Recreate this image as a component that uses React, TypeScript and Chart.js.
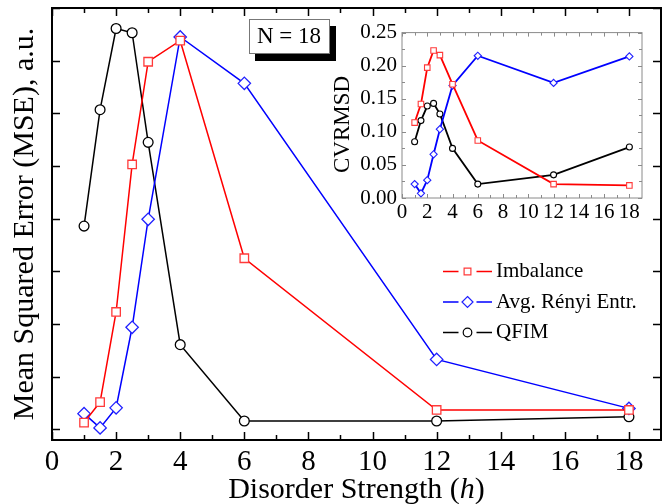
import React, { useEffect, useRef } from 'react';
import { Chart, registerables } from 'chart.js';
Chart.register(...registerables);

const FONT = '"Liberation Serif", "Times New Roman", serif';

// ---- data ----
const hValues = [1, 1.5, 2, 2.5, 3, 4, 6, 12, 18];
const mseImbalance = [0.13, 0.52, 2.23, 5.03, 6.98, 7.38, 3.25, 0.37, 0.37];
const mseRenyi = [0.3, 0.03, 0.41, 1.94, 3.99, 7.45, 6.57, 1.33, 0.4];
const mseQfim = [3.86, 6.07, 7.61, 7.53, 5.45, 1.61, 0.16, 0.16, 0.24];
const cvImbalance = [0.114, 0.142, 0.197, 0.223, 0.216, 0.172, 0.087, 0.021, 0.019];
const cvRenyi = [0.021, 0.007, 0.027, 0.066, 0.104, 0.17, 0.215, 0.174, 0.214];
const cvQfim = [0.085, 0.117, 0.139, 0.143, 0.127, 0.075, 0.021, 0.035, 0.077];

const seriesNames = ['Imbalance', 'Avg. Rényi Entr.', 'QFIM'];
const mainXTicks = [0, 2, 4, 6, 8, 10, 12, 14, 16, 18];
const mainXMinor = [1, 3, 5, 7, 9, 11, 13, 15, 17];
const mainYTicks = [0, 1, 2, 3, 4, 5, 6, 7, 8];
const insetXTicks = [0, 2, 4, 6, 8, 10, 12, 14, 16, 18];
const insetXMinor = [1, 3, 5, 7, 9, 11, 13, 15, 17];
const insetYTicks = [0, 0.05, 0.1, 0.15, 0.2, 0.25];
const insetYMinor = [0.025, 0.075, 0.125, 0.175, 0.225];
const xTitleParts = ['Disorder Strength (', 'h', ')'];
const yTitle = 'Mean Squared Error (MSE), a.u.';
const insetTitle = 'CVRMSD';
const annotation = 'N = 18';

const COLORS = ['#ff0000', '#0000ff', '#000000'];
const POINT_COLORS = ['#ff3a3a', '#2020ff', '#000000'];
const STYLES = ['rect', 'rectRot', 'circle'];

function framePlugin(cfg: any) {
  return {
    id: 'frameTicks',
    afterDatasetsDraw(chart: any) {
      const { ctx, chartArea: a, scales } = chart;
      const xs = scales.x;
      const ys = scales.y;
      ctx.save();
      ctx.strokeStyle = cfg.color;
      ctx.lineWidth = cfg.tickWidth;
      const drawX = (vals: number[], len: number) =>
        vals.forEach((v) => {
          const px = Math.round(xs.getPixelForValue(v)) + 0.5;
          ctx.beginPath();
          ctx.moveTo(px, a.bottom);
          ctx.lineTo(px, a.bottom - len);
          ctx.moveTo(px, a.top);
          ctx.lineTo(px, a.top + len);
          ctx.stroke();
        });
      const drawY = (vals: number[], len: number) =>
        vals.forEach((v) => {
          const py = Math.round(ys.getPixelForValue(v)) + 0.5;
          ctx.beginPath();
          ctx.moveTo(a.left, py);
          ctx.lineTo(a.left + len, py);
          ctx.moveTo(a.right, py);
          ctx.lineTo(a.right - len, py);
          ctx.stroke();
        });
      drawX(cfg.xMajor, cfg.majorLen);
      drawX(cfg.xMinor, cfg.minorLen);
      drawY(cfg.yMajor, cfg.majorLen);
      drawY(cfg.yMinor, cfg.minorLen);
      ctx.lineWidth = cfg.frameWidth;
      ctx.strokeRect(a.left, a.top, a.right - a.left, a.bottom - a.top);
      ctx.restore();
    },
  };
}

function drawMarker(ctx: any, style: string, x: number, y: number, r: number) {
  ctx.beginPath();
  if (style === 'rect') {
    const s = r * Math.SQRT1_2;
    ctx.rect(x - s, y - s, 2 * s, 2 * s);
  } else if (style === 'rectRot') {
    ctx.moveTo(x, y - r);
    ctx.lineTo(x + r, y);
    ctx.lineTo(x, y + r);
    ctx.lineTo(x - r, y);
    ctx.closePath();
  } else {
    ctx.arc(x, y, r, 0, Math.PI * 2);
  }
  ctx.fill();
  ctx.stroke();
}

const mainDecor = {
  id: 'mainDecor',
  afterDraw(chart: any) {
    const { ctx, chartArea: a } = chart;
    ctx.save();
    // x axis title with italic h
    const base = '30px ' + FONT;
    const ital = 'italic 30px ' + FONT;
    ctx.font = base;
    const w0 = ctx.measureText(xTitleParts[0]).width;
    const w2 = ctx.measureText(xTitleParts[2]).width;
    ctx.font = ital;
    const w1 = ctx.measureText(xTitleParts[1]).width;
    const total = w0 + w1 + w2;
    let x = (a.left + a.right) / 2 - total / 2;
    const yb = 498;
    ctx.fillStyle = '#000';
    ctx.textBaseline = 'alphabetic';
    ctx.textAlign = 'left';
    ctx.font = base;
    ctx.fillText(xTitleParts[0], x, yb);
    x += w0;
    ctx.font = ital;
    ctx.fillText(xTitleParts[1], x, yb);
    x += w1;
    ctx.font = base;
    ctx.fillText(xTitleParts[2], x, yb);

    // N = 18 box with shadow
    ctx.fillStyle = '#000';
    ctx.fillRect(255, 26, 81, 35);
    ctx.fillStyle = '#fff';
    ctx.fillRect(249, 19, 81, 35);
    ctx.strokeStyle = '#777';
    ctx.lineWidth = 1;
    ctx.strokeRect(249.5, 19.5, 80, 34);
    ctx.fillStyle = '#000';
    ctx.font = '23px ' + FONT;
    ctx.textAlign = 'center';
    ctx.textBaseline = 'middle';
    ctx.fillText(annotation, 289, 37);

    // legend
    const rows = [271.5, 302, 332.5];
    const sizes = [4.8, 5.5, 4.3];
    chart.data.datasets.forEach((ds: any, i: number) => {
      const y = rows[i];
      const cx = 467.5;
      ctx.strokeStyle = COLORS[i];
      ctx.lineWidth = 1.5;
      ctx.beginPath();
      ctx.moveTo(443, y);
      ctx.lineTo(cx - 9, y);
      ctx.moveTo(cx + 9, y);
      ctx.lineTo(492, y);
      ctx.stroke();
      ctx.strokeStyle = POINT_COLORS[i];
      ctx.fillStyle = '#fff';
      ctx.lineWidth = 1.2;
      drawMarker(ctx, STYLES[i], cx, y, sizes[i]);
      ctx.fillStyle = '#000';
      ctx.font = '21px ' + FONT;
      ctx.textAlign = 'left';
      ctx.textBaseline = 'middle';
      ctx.fillText(ds.label, 496, y);
    });
    ctx.restore();
  },
};

const insetDecor = {
  id: 'insetDecor',
  afterDraw(chart: any) {
    const { ctx } = chart;
    ctx.save();
    ctx.translate(12.5, 109.5);
    ctx.rotate(-Math.PI / 2);
    ctx.fillStyle = '#000';
    ctx.font = '23px ' + FONT;
    ctx.textAlign = 'center';
    ctx.textBaseline = 'middle';
    ctx.fillText(insetTitle, 0, 0);
    ctx.restore();
  },
};

function buildDatasets(values: number[][], radii: number[], lineWidth: number, pbw: number) {
  return values.map((vals, i) => ({
    label: seriesNames[i],
    data: hValues.map((h, j) => ({ x: h, y: vals[j] })),
    borderColor: COLORS[i],
    backgroundColor: COLORS[i],
    borderWidth: lineWidth,
    pointStyle: STYLES[i],
    pointRadius: radii[i],
    pointHoverRadius: radii[i],
    pointBorderColor: POINT_COLORS[i],
    pointBackgroundColor: '#ffffff',
    pointBorderWidth: pbw,
    tension: 0,
    fill: false,
    clip: false,
  }));
}

export default function App() {
  const mainRef = useRef<HTMLCanvasElement>(null);
  const insetRef = useRef<HTMLCanvasElement>(null);

  useEffect(() => {
    const main = new Chart(mainRef.current!, {
      type: 'line',
      data: { datasets: buildDatasets([mseImbalance, mseRenyi, mseQfim], [6, 6.2, 4.9], 1.5, 1.3) as any },
      options: {
        animation: false,
        responsive: false,
        devicePixelRatio: 1,
        layout: { padding: { left: 0, top: 8, right: 9, bottom: 0 } },
        plugins: { legend: { display: false }, tooltip: { enabled: false } },
        scales: {
          x: {
            type: 'linear',
            min: 0,
            max: 19,
            afterBuildTicks: (s: any) => {
              s.ticks = mainXTicks.map((v) => ({ value: v }));
            },
            afterFit: (s: any) => {
              s.height = 64;
            },
            grid: { display: false, drawTicks: false },
            border: { display: false },
            ticks: {
              autoSkip: false,
              maxRotation: 0,
              padding: 5,
              color: '#000',
              font: { family: FONT, size: 29 },
            },
            title: { display: false },
          },
          y: {
            type: 'linear',
            min: -0.2,
            max: 8,
            afterBuildTicks: (s: any) => {
              s.ticks = mainYTicks.map((v) => ({ value: v }));
            },
            afterFit: (s: any) => {
              s.width = 52;
            },
            grid: { display: false, drawTicks: false },
            border: { display: false },
            ticks: { display: false },
            title: {
              display: true,
              text: yTitle,
              color: '#000',
              font: { family: FONT, size: 30, lineHeight: 1 },
              padding: { top: 10, bottom: 0 },
            },
          },
        },
      },
      plugins: [
        framePlugin({
          color: '#000',
          tickWidth: 1.5,
          frameWidth: 2,
          majorLen: 8,
          minorLen: 5,
          xMajor: mainXTicks,
          xMinor: mainXMinor,
          yMajor: mainYTicks,
          yMinor: [],
        }),
        mainDecor,
      ],
    } as any);

    const inset = new Chart(insetRef.current!, {
      type: 'line',
      data: { datasets: buildDatasets([cvImbalance, cvRenyi, cvQfim], [3.9, 3.6, 3.0], 1.8, 1.1) as any },
      options: {
        animation: false,
        responsive: false,
        devicePixelRatio: 1,
        layout: { padding: { left: 0, top: 14, right: 8, bottom: 0 } },
        plugins: { legend: { display: false }, tooltip: { enabled: false } },
        scales: {
          x: {
            type: 'linear',
            min: 0,
            max: 19,
            afterBuildTicks: (s: any) => {
              s.ticks = insetXTicks.map((v) => ({ value: v }));
            },
            afterFit: (s: any) => {
              s.height = 37;
            },
            grid: { display: false, drawTicks: false },
            border: { display: false },
            ticks: {
              autoSkip: false,
              maxRotation: 0,
              padding: 4,
              color: '#000',
              font: { family: FONT, size: 21, lineHeight: 1 },
            },
          },
          y: {
            type: 'linear',
            min: 0,
            max: 0.25,
            afterBuildTicks: (s: any) => {
              s.ticks = insetYTicks.map((v) => ({ value: v }));
            },
            afterFit: (s: any) => {
              s.width = 72;
            },
            grid: { display: false, drawTicks: false },
            border: { display: false },
            ticks: {
              padding: 5,
              color: '#000',
              font: { family: FONT, size: 21 },
              callback: (v: any) => Number(v).toFixed(2),
            },
          },
        },
      },
      plugins: [
        framePlugin({
          color: '#8a8a8a',
          tickWidth: 1,
          frameWidth: 1,
          majorLen: 4,
          minorLen: 3,
          xMajor: insetXTicks,
          xMinor: insetXMinor,
          yMajor: insetYTicks,
          yMinor: insetYMinor,
        }),
        insetDecor,
      ],
    } as any);

    return () => {
      main.destroy();
      inset.destroy();
    };
  }, []);

  return (
    <div style={{ position: 'fixed', left: 0, top: 0, width: 670, height: 504, background: '#fff' }}>
      <canvas ref={mainRef} width={670} height={504} style={{ position: 'absolute', left: 0, top: 0 }} />
      <canvas ref={insetRef} width={320} height={220} style={{ position: 'absolute', left: 330, top: 15 }} />
    </div>
  );
}
